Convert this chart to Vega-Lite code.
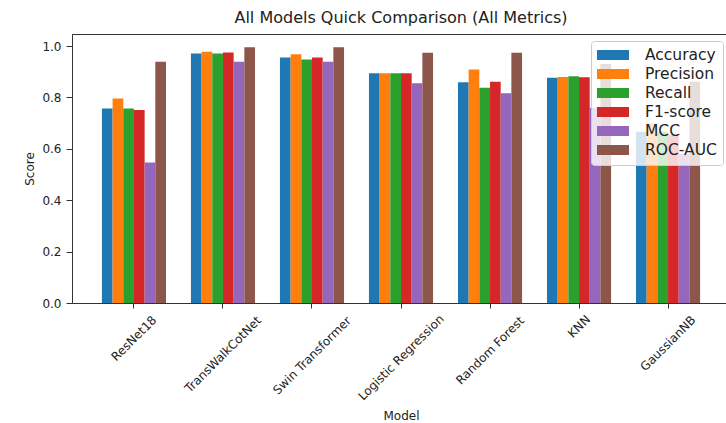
{
  "$schema": "https://vega.github.io/schema/vega-lite/v6.json",
  "width": 658,
  "height": 269,
  "autosize": {"type": "none"},
  "padding": {"left": 72, "top": 34, "right": 0, "bottom": 120},
  "title": {
    "text": "All Models Quick Comparison (All Metrics)",
    "font": "DejaVu Sans",
    "fontSize": 16,
    "fontWeight": "normal",
    "color": "#222222",
    "offset": 8
  },
  "data": {
    "values": [
      {"model": "ResNet18", "metric": "Accuracy", "score": 0.757},
      {"model": "ResNet18", "metric": "Precision", "score": 0.796},
      {"model": "ResNet18", "metric": "Recall", "score": 0.757},
      {"model": "ResNet18", "metric": "F1-score", "score": 0.751},
      {"model": "ResNet18", "metric": "MCC", "score": 0.547},
      {"model": "ResNet18", "metric": "ROC-AUC", "score": 0.939},
      {"model": "TransWalkCotNet", "metric": "Accuracy", "score": 0.971},
      {"model": "TransWalkCotNet", "metric": "Precision", "score": 0.978},
      {"model": "TransWalkCotNet", "metric": "Recall", "score": 0.971},
      {"model": "TransWalkCotNet", "metric": "F1-score", "score": 0.975},
      {"model": "TransWalkCotNet", "metric": "MCC", "score": 0.939},
      {"model": "TransWalkCotNet", "metric": "ROC-AUC", "score": 0.995},
      {"model": "Swin Transformer", "metric": "Accuracy", "score": 0.956},
      {"model": "Swin Transformer", "metric": "Precision", "score": 0.968},
      {"model": "Swin Transformer", "metric": "Recall", "score": 0.948},
      {"model": "Swin Transformer", "metric": "F1-score", "score": 0.956},
      {"model": "Swin Transformer", "metric": "MCC", "score": 0.939},
      {"model": "Swin Transformer", "metric": "ROC-AUC", "score": 0.995},
      {"model": "Logistic Regression", "metric": "Accuracy", "score": 0.894},
      {"model": "Logistic Regression", "metric": "Precision", "score": 0.894},
      {"model": "Logistic Regression", "metric": "Recall", "score": 0.894},
      {"model": "Logistic Regression", "metric": "F1-score", "score": 0.894},
      {"model": "Logistic Regression", "metric": "MCC", "score": 0.855},
      {"model": "Logistic Regression", "metric": "ROC-AUC", "score": 0.974},
      {"model": "Random Forest", "metric": "Accuracy", "score": 0.859},
      {"model": "Random Forest", "metric": "Precision", "score": 0.909},
      {"model": "Random Forest", "metric": "Recall", "score": 0.838},
      {"model": "Random Forest", "metric": "F1-score", "score": 0.861},
      {"model": "Random Forest", "metric": "MCC", "score": 0.816},
      {"model": "Random Forest", "metric": "ROC-AUC", "score": 0.974},
      {"model": "KNN", "metric": "Accuracy", "score": 0.877},
      {"model": "KNN", "metric": "Precision", "score": 0.880},
      {"model": "KNN", "metric": "Recall", "score": 0.883},
      {"model": "KNN", "metric": "F1-score", "score": 0.879},
      {"model": "KNN", "metric": "MCC", "score": 0.76},
      {"model": "KNN", "metric": "ROC-AUC", "score": 0.93},
      {"model": "GaussianNB", "metric": "Accuracy", "score": 0.667},
      {"model": "GaussianNB", "metric": "Precision", "score": 0.70},
      {"model": "GaussianNB", "metric": "Recall", "score": 0.667},
      {"model": "GaussianNB", "metric": "F1-score", "score": 0.655},
      {"model": "GaussianNB", "metric": "MCC", "score": 0.58},
      {"model": "GaussianNB", "metric": "ROC-AUC", "score": 0.861}
    ]
  },
  "mark": {"type": "bar"},
  "encoding": {
    "x": {
      "field": "model",
      "type": "nominal",
      "sort": ["ResNet18", "TransWalkCotNet", "Swin Transformer", "Logistic Regression", "Random Forest", "KNN", "GaussianNB"],
      "scale": {"paddingInner": 0.28, "paddingOuter": 0.336},
      "axis": {
        "title": "Model",
        "labelAngle": -45,
        "labelAlign": "center",
        "labelBaseline": "middle",
        "labelPadding": {
          "condition": [
            {"test": "datum.label == 'ResNet18'", "value": 30},
            {"test": "datum.label == 'TransWalkCotNet'", "value": 46},
            {"test": "datum.label == 'Swin Transformer'", "value": 47},
            {"test": "datum.label == 'Logistic Regression'", "value": 49},
            {"test": "datum.label == 'Random Forest'", "value": 42},
            {"test": "datum.label == 'KNN'", "value": 18}
          ],
          "value": 35
        },
        "tickSize": 5,
        "labelOverlap": false,
        "labelBound": false,
        "labelFontSize": 12,
        "titleFontSize": 12,
        "titlePadding": 9
      }
    },
    "xOffset": {
      "field": "metric",
      "type": "nominal",
      "sort": ["Accuracy", "Precision", "Recall", "F1-score", "MCC", "ROC-AUC"],
      "scale": {"paddingInner": 0, "paddingOuter": 0}
    },
    "y": {
      "field": "score",
      "type": "quantitative",
      "scale": {"domain": [0, 1.047], "nice": false},
      "axis": {
        "title": "Score",
        "values": [0, 0.2, 0.4, 0.6, 0.8, 1.0],
        "format": ".1f",
        "tickSize": 6,
        "labelPadding": 5,
        "labelFontSize": 12,
        "titleFontSize": 12,
        "titlePadding": 5
      }
    },
    "color": {
      "field": "metric",
      "type": "nominal",
      "sort": ["Accuracy", "Precision", "Recall", "F1-score", "MCC", "ROC-AUC"],
      "scale": {
        "domain": ["Accuracy", "Precision", "Recall", "F1-score", "MCC", "ROC-AUC"],
        "range": ["#1f77b4", "#ff7f0e", "#2ca02c", "#d62728", "#9467bd", "#8c564b"]
      },
      "legend": {
        "title": null,
        "orient": "top-right",
        "offset": 7,
        "fillColor": "rgba(255,255,255,0.8)",
        "strokeColor": "#cccccc",
        "cornerRadius": 3,
        "padding": 6,
        "symbolType": "M-2,-0.625H2V0.625H-2Z",
        "symbolSize": 256,
        "symbolStrokeWidth": 0,
        "symbolOpacity": 1,
        "symbolOffset": 8,
        "labelFont": "DejaVu Sans",
        "labelFontSize": 15.5,
        "labelColor": "#222222",
        "labelOffset": 24,
        "rowPadding": 2
      }
    }
  },
  "config": {
    "view": {"stroke": "#333333", "strokeWidth": 1},
    "axis": {
      "grid": false,
      "domainColor": "#333333",
      "tickColor": "#333333",
      "labelColor": "#222222",
      "titleColor": "#222222",
      "labelFont": "DejaVu Sans",
      "titleFont": "DejaVu Sans",
      "titleFontWeight": "normal"
    }
  }
}
